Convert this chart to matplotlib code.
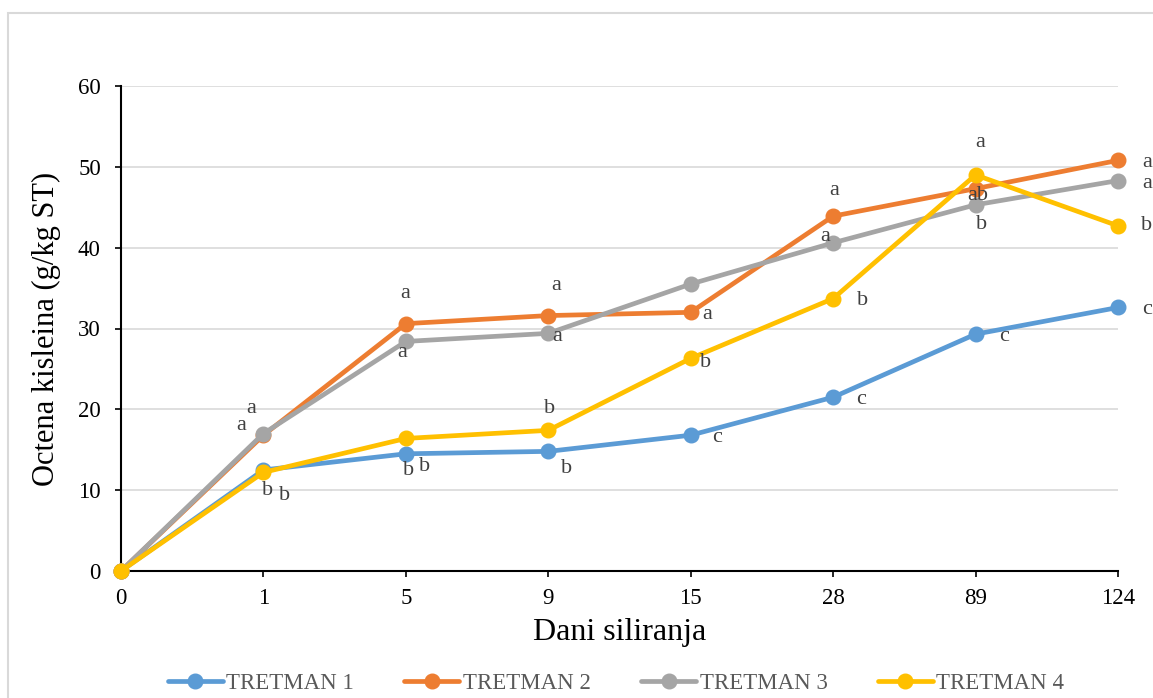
import matplotlib
matplotlib.use("Agg")
import matplotlib.pyplot as plt
from matplotlib.patches import Rectangle

# Days of ensiling (categorical axis)
days = ["0", "1", "5", "9", "15", "28", "89", "124"]

# Acetic acid content (g/kg DM) per treatment
tretman_1 = [0, 12.5, 14.5, 14.8, 16.8, 21.5, 29.3, 32.6]
tretman_2 = [0, 16.8, 30.6, 31.6, 32.0, 43.9, 47.3, 50.8]
tretman_3 = [0, 17.0, 28.4, 29.4, 35.5, 40.6, 45.3, 48.3]
tretman_4 = [0, 12.2, 16.4, 17.4, 26.3, 33.7, 49.0, 42.7]

series_names = ["TRETMAN 1", "TRETMAN 2", "TRETMAN 3", "TRETMAN 4"]
series_values = [tretman_1, tretman_2, tretman_3, tretman_4]
colors = ["#5B9BD5", "#ED7D31", "#A5A5A5", "#FFC000"]

# Significance letters per point (None = no letter)
letters_1 = [None, "b", "b", "b", "c", "c", "c", "c"]
letters_2 = [None, "a", "a", "a", "a", "a", "ab", "a"]
letters_3 = [None, "a", "a", "a", None, "a", "b", "a"]
letters_4 = [None, "b", "b", "b", "b", "b", "a", "b"]
series_letters = [letters_1, letters_2, letters_3, letters_4]

# Letter offsets in pixels (dx, dy; dy positive = downwards)
offsets = [
    [None, (4, 21), (3, 17), (18, 17), (26, 2), (28, 2), (28, 2), (29, 2)],
    [None, (-22, -10), (-1, -30), (8, -30), (16, 2), (1, -26), (2, 7), (29, 2)],
    [None, (-12, -25), (-4, 11), (9, 3), None, (-8, -6), (6, 20), (29, 3)],
    [None, (21, 23), (19, 28), (1, -22), (15, 4), (29, 2), (5, -32), (29, 0)],
]

plt.rcParams["font.family"] = ["Liberation Serif", "DejaVu Serif"]

fig = plt.figure(figsize=(11.53, 6.98), dpi=100)
fig.patch.set_facecolor("white")

# Light chart-area border
fig.patches.append(Rectangle((8 / 1153, -0.05), 1.1, 1 - 13 / 698 + 0.05,
                             transform=fig.transFigure, fill=False,
                             edgecolor="#D9D9D9", linewidth=1.5))

ax = fig.add_axes([121 / 1153, 1 - 571 / 698, (1118 - 121) / 1153, (571 - 86) / 698])
xs = list(range(len(days)))

lines = []
for vals, name, col in zip(series_values, series_names, colors):
    ln, = ax.plot(xs, vals, color=col, linewidth=3.4, marker="o", markersize=10.5,
                  label=name, solid_capstyle="round", solid_joinstyle="round",
                  clip_on=False, zorder=3)
    lines.append(ln)

for vals, letters, offs in zip(series_values, series_letters, offsets):
    for x, v, lab, off in zip(xs, vals, letters, offs):
        if lab is None:
            continue
        ax.annotate(lab, (x, v), xytext=(off[0], -off[1]), textcoords="offset pixels",
                    ha="center", va="center", fontsize=16, color="#404040",
                    annotation_clip=False, zorder=5)

ax.set_xlim(0, 7)
ax.set_ylim(0, 60)
ax.set_yticks(range(0, 61, 10))
ax.set_xticks(xs)
ax.set_xticklabels(days)
ax.tick_params(axis="both", labelsize=16.5, colors="black", direction="out",
               length=4.5, width=1.2)
ax.tick_params(axis="x", pad=8)
ax.tick_params(axis="y", pad=10)
ax.grid(axis="y", color="#D9D9D9", linewidth=1.2)
ax.set_axisbelow(True)
for side in ["top", "right"]:
    ax.spines[side].set_visible(False)
for side in ["left", "bottom"]:
    ax.spines[side].set_color("black")
    ax.spines[side].set_linewidth(1.5)

ax.set_xlabel("Dani siliranja", fontsize=23, labelpad=6)
ax.set_ylabel("Octena kisleina (g/kg ST)", fontsize=22, labelpad=12)

leg = fig.legend(handles=lines, loc="center", bbox_to_anchor=(616 / 1153, 1 - 683 / 698),
                 ncol=4, frameon=False, fontsize=16.5, handlelength=2.4,
                 handletextpad=0.15, columnspacing=2.2)
for t in leg.get_texts():
    t.set_color("#595959")

fig.savefig("out.png", dpi=100, facecolor="white")
